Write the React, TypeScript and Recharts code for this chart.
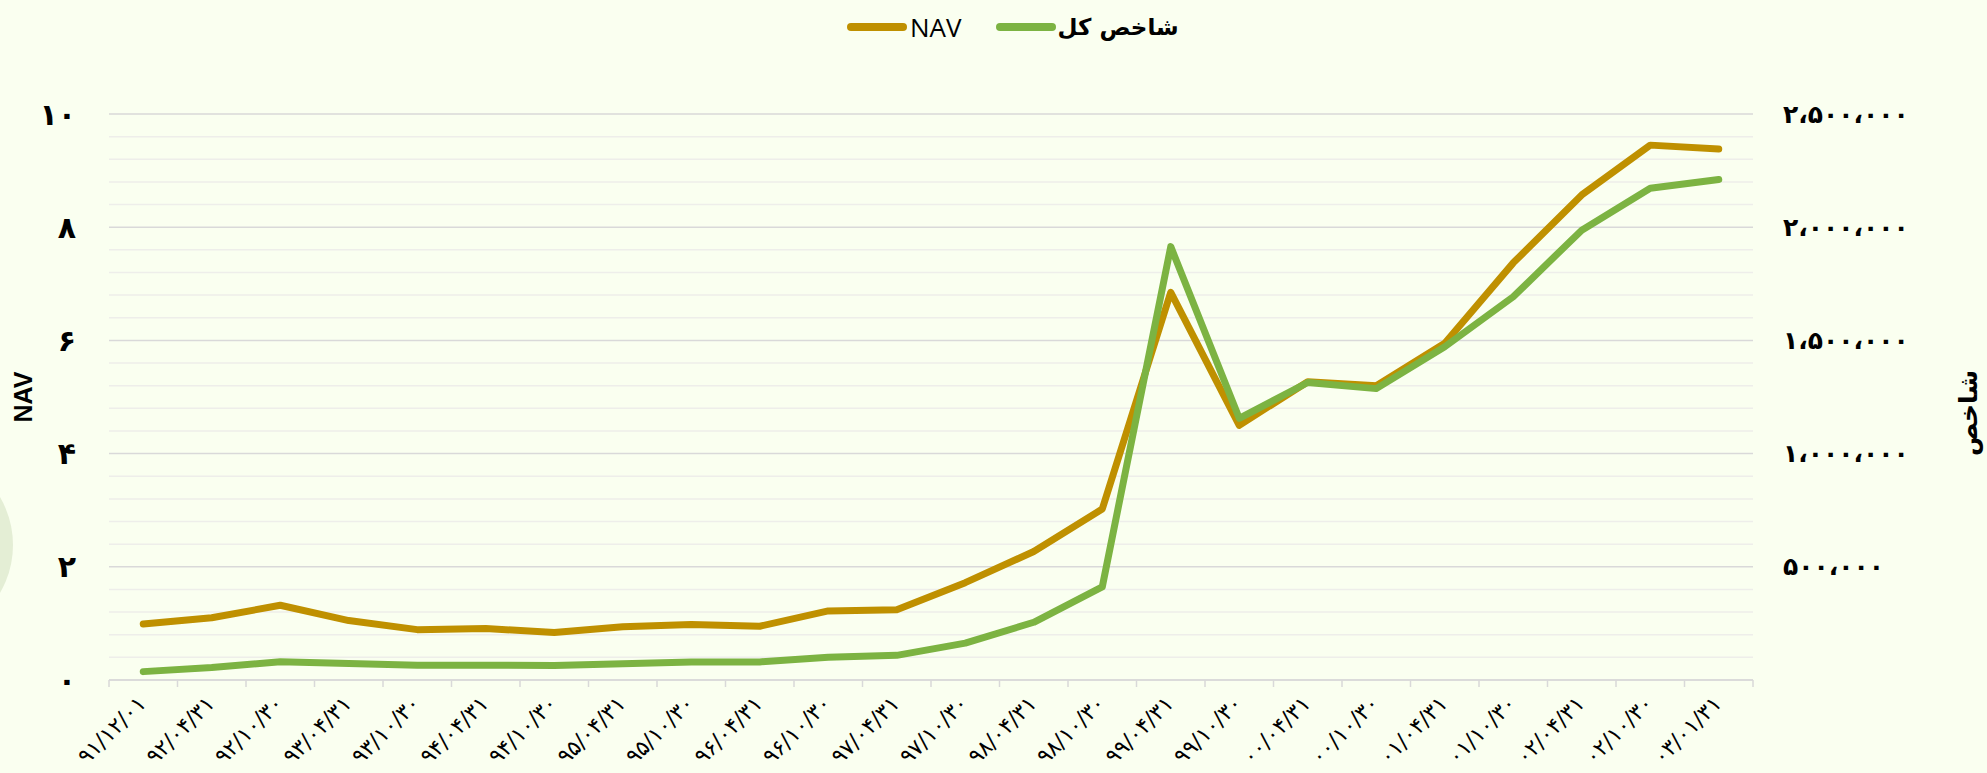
import React from 'react';
import { LineChart, Line, XAxis, YAxis, CartesianGrid, ReferenceLine } from 'recharts';

const categories = [
  '۹۱/۱۲/۰۱', '۹۲/۰۴/۳۱', '۹۲/۱۰/۳۰', '۹۳/۰۴/۳۱', '۹۳/۱۰/۳۰', '۹۴/۰۴/۳۱',
  '۹۴/۱۰/۳۰', '۹۵/۰۴/۳۱', '۹۵/۱۰/۳۰', '۹۶/۰۴/۳۱', '۹۶/۱۰/۳۰', '۹۷/۰۴/۳۱',
  '۹۷/۱۰/۳۰', '۹۸/۰۴/۳۱', '۹۸/۱۰/۳۰', '۹۹/۰۴/۳۱', '۹۹/۱۰/۳۰', '۰۰/۰۴/۳۱',
  '۰۰/۱۰/۳۰', '۰۱/۰۴/۳۱', '۰۱/۱۰/۳۰', '۰۲/۰۴/۳۱', '۰۲/۱۰/۳۰', '۰۳/۰۱/۳۱',
];

const navValues = [
  0.99, 1.1, 1.32, 1.05, 0.89, 0.91, 0.84, 0.94, 0.98, 0.95, 1.22, 1.24,
  1.72, 2.27, 3.02, 6.85, 4.5, 5.27, 5.2, 5.95, 7.37, 8.57, 9.45, 9.38,
];

const indexValues = [
  37000, 55000, 81000, 73000, 65000, 65000, 64000, 72000, 79000, 80000, 100000, 109000,
  163000, 255000, 411000, 1914000, 1156000, 1314000, 1287000, 1472000, 1693000, 1987000, 2172000, 2211000,
];

const navTicks = [0, 2, 4, 6, 8, 10];
const navMinorTicks = [0.4, 0.8, 1.2, 1.6, 2.4, 2.8, 3.2, 3.6, 4.4, 4.8, 5.2, 5.6, 6.4, 6.8, 7.2, 7.6, 8.4, 8.8, 9.2, 9.6];
const indexTicks = [500000, 1000000, 1500000, 2000000, 2500000];

const NAV_NAME = 'NAV';
const INDEX_NAME = 'شاخص کل';
const NAV_COLOR = '#BF9000';
const INDEX_COLOR = '#7CB342';

const data = categories.map((c, i) => ({ date: c, nav: navValues[i], index: indexValues[i] }));

const W = 1987;
const H = 773;
const LEFT_W = 109;
const RIGHT_W = 234;
const TOP = 114;
const XAXIS_H = 93;
const BAND = (W - LEFT_W - RIGHT_W) / categories.length;

const faDigits = '۰۱۲۳۴۵۶۷۸۹';
const toFa = (s: string) => s.replace(/[0-9]/g, (d) => faDigits[Number(d)]).replace(/,/g, '،');

const AR_FONT = '"DejaVu Sans", sans-serif';

const XTick = (props: any) => {
  const { x, y, payload, index } = props;
  const half = BAND / 2;
  const ax = x + 4;
  const ay = y + 25;
  return (
    <g>
      <line x1={x - half} y1={y} x2={x - half} y2={y + 7} stroke="#D9D9D9" strokeWidth={1.5} />
      {index === categories.length - 1 && (
        <line x1={x + half} y1={y} x2={x + half} y2={y + 7} stroke="#D9D9D9" strokeWidth={1.5} />
      )}
      <text
        x={ax}
        y={ay}
        transform={`rotate(-45, ${ax}, ${ay})`}
        textAnchor="end"
        fontFamily={AR_FONT}
        fontSize={22}
        letterSpacing={1.6}
        fill="#000"
      >
        {payload.value}
      </text>
    </g>
  );
};

const LeftTick = (props: any) => {
  const { x, y, payload } = props;
  return (
    <text x={x} y={y} textAnchor="end" dominantBaseline="central" fontFamily={AR_FONT} fontWeight="bold" fontSize={30} fill="#000">
      {toFa(String(payload.value))}
    </text>
  );
};

const RightTick = (props: any) => {
  const { x, y, payload } = props;
  return (
    <text x={x} y={y} textAnchor="start" dominantBaseline="central" fontFamily={AR_FONT} fontWeight="bold" fontSize={25} fill="#000">
      {toFa(Number(payload.value).toLocaleString('en-US'))}
    </text>
  );
};

const LeftTitle = (props: any) => {
  const vb = props.viewBox || { y: TOP, height: H - TOP - XAXIS_H };
  const cx = 23;
  const cy = vb.y + vb.height / 2;
  return (
    <text x={cx} y={cy} transform={`rotate(-90, ${cx}, ${cy})`} textAnchor="middle" dominantBaseline="central"
      fontFamily='"Liberation Sans", Arial, sans-serif' fontWeight="bold" fontSize={25} fill="#000">
      NAV
    </text>
  );
};

const RightTitle = (props: any) => {
  const vb = props.viewBox || { y: TOP, height: H - TOP - XAXIS_H };
  const cx = 1968;
  const cy = vb.y + vb.height / 2 + 16;
  return (
    <text x={cx} y={cy} transform={`rotate(-90, ${cx}, ${cy})`} textAnchor="middle" dominantBaseline="central"
      fontFamily={AR_FONT} fontWeight="bold" fontSize={25} fill="#000">
      شاخص
    </text>
  );
};

const LegendIcon = ({ color }: { color: string }) => (
  <svg width={60} height={10} style={{ display: 'block' }}>
    <line x1={4} y1={5} x2={56} y2={5} stroke={color} strokeWidth={8} strokeLinecap="round" />
  </svg>
);

export default function App() {
  return (
    <div style={{ position: 'relative', width: W, height: H, background: '#FAFFF0', overflow: 'hidden' }}>
      <style>{'body{margin:0}'}</style>
      <div
        style={{
          position: 'absolute', left: -82 - 95, top: 545 - 95, width: 190, height: 190,
          borderRadius: '50%', background: '#E4EED5',
        }}
      />
      <div style={{ position: 'absolute', left: 0, top: 0 }}>
        <LineChart width={W} height={H} data={data} margin={{ top: TOP, right: 0, bottom: 0, left: 0 }}>
          <CartesianGrid yAxisId="left" horizontal vertical={false} stroke="#D9D9D9" strokeWidth={1.5} />
          {navMinorTicks.map((v) => (
            <ReferenceLine key={v} yAxisId="left" y={v} stroke="#EEEEEA" strokeWidth={1.5} />
          ))}
          <XAxis
            dataKey="date"
            height={XAXIS_H}
            interval={0}
            padding={{ left: BAND / 2, right: BAND / 2 }}
            tickLine={false}
            tickSize={0}
            tickMargin={0}
            axisLine={{ stroke: '#D9D9D9', strokeWidth: 1.5 }}
            tick={<XTick />}
          />
          <YAxis
            yAxisId="left"
            orientation="left"
            width={LEFT_W}
            domain={[0, 10]}
            ticks={navTicks}
            axisLine={false}
            tickLine={false}
            tickSize={0}
            tickMargin={33}
            tick={<LeftTick />}
            label={<LeftTitle />}
          />
          <YAxis
            yAxisId="right"
            orientation="right"
            width={RIGHT_W}
            domain={[0, 2500000]}
            ticks={indexTicks}
            axisLine={false}
            tickLine={false}
            tickSize={0}
            tickMargin={30}
            tick={<RightTick />}
            label={<RightTitle />}
          />
          <Line yAxisId="left" dataKey="nav" name={NAV_NAME} stroke={NAV_COLOR} strokeWidth={7}
            dot={false} strokeLinecap="round" strokeLinejoin="round" isAnimationActive={false} />
          <Line yAxisId="right" dataKey="index" name={INDEX_NAME} stroke={INDEX_COLOR} strokeWidth={7}
            dot={false} strokeLinecap="round" strokeLinejoin="round" isAnimationActive={false} />
        </LineChart>
      </div>
      <div style={{ position: 'absolute', left: 847, top: 8, height: 38, display: 'flex', alignItems: 'center' }}>
        <LegendIcon color={NAV_COLOR} />
        <span style={{ fontFamily: '"Open Sans", sans-serif', fontSize: 26, marginLeft: 3, color: '#000' }}>{NAV_NAME}</span>
        <span style={{ width: 34 }} />
        <LegendIcon color={INDEX_COLOR} />
        <span style={{ fontFamily: AR_FONT, fontWeight: 'bold', fontSize: 23, marginLeft: 2, color: '#000', direction: 'rtl' }}>{INDEX_NAME}</span>
      </div>
    </div>
  );
}
